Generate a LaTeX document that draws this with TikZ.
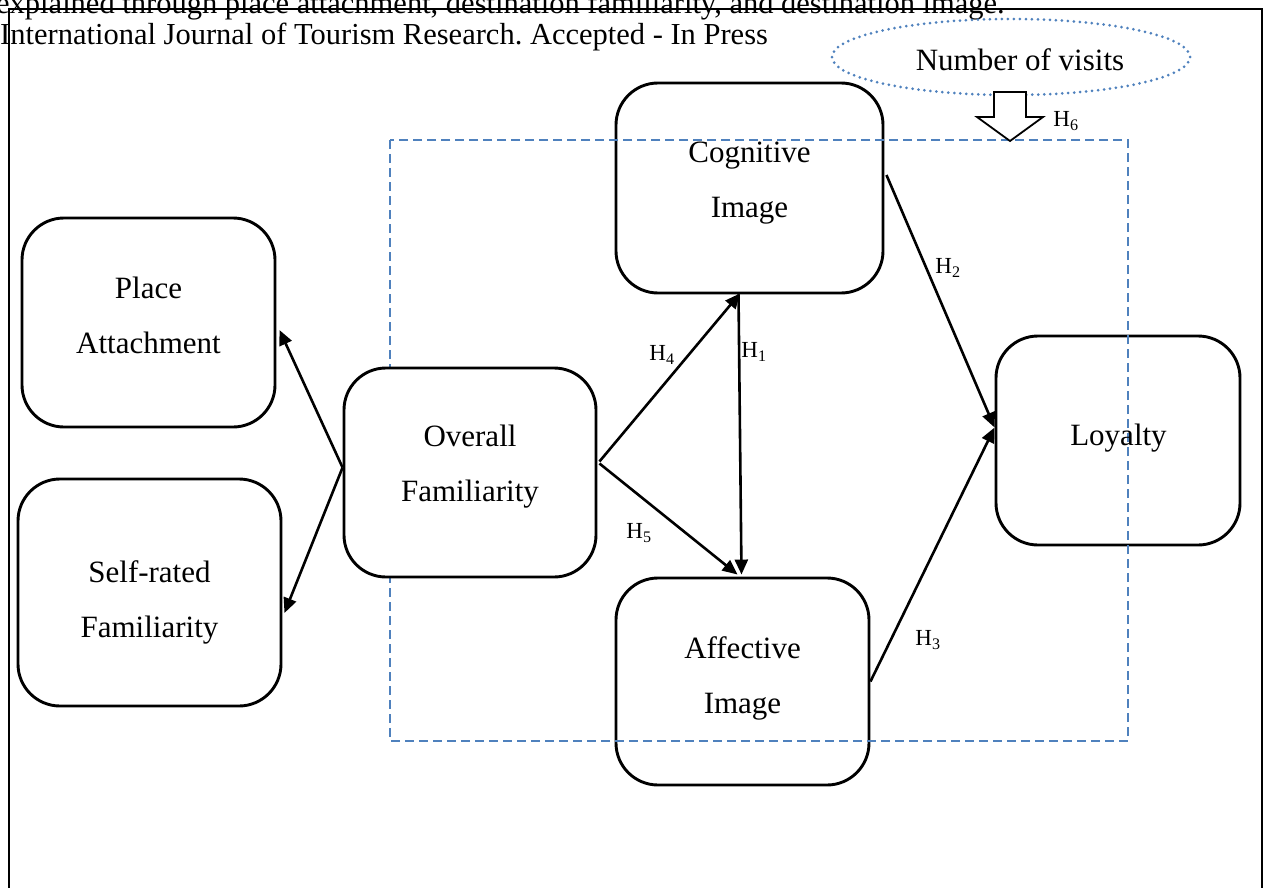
\documentclass[tikz,border=0pt]{standalone}
\usepackage{fontspec}
\setmainfont{Liberation Serif}
\usetikzlibrary{arrows.meta,calc,shapes.geometric}
\definecolor{wblue}{RGB}{79,129,189}
\frenchspacing
\begin{document}
\begin{tikzpicture}[x=1pt,y=-1pt,
  box/.style={draw, line width=2.9pt, rounded corners=42pt, fill=white, inner sep=0pt},
  lbl/.style={font=\fontsize{31}{55}\selectfont, align=center, inner sep=0pt},
  hyp/.style={font=\fontsize{23}{26}\selectfont, inner sep=0pt},
  arr/.style={line width=2.6pt, -{Triangle[length=15pt,width=13pt]}},
  hdr/.style={font=\fontsize{30.5}{32}\selectfont, anchor=base west, inner sep=0pt},
  frameline/.style={line width=2.4pt},
  grp/.style={draw=wblue, line width=2pt, dash pattern=on 9pt off 5pt},
  visits/.style={draw=wblue, ellipse, line width=3pt, dash pattern=on 0pt off 6pt, line cap=round, inner sep=0pt},
]
\useasboundingbox (0,0) rectangle (1269,888);
% header text
\node[hdr] (hdrA) at (-4,14) {explained through place attachment, destination familiarity, and destination image.};
\node[hdr] (hdrB) at (0,45) {International Journal of Tourism Research. Accepted - In Press};
\draw[frameline] (9,888) -- (9,9) -- (1262,9) -- (1262,888);

% boxes that the dashed frame runs over
\node[box, minimum width=267pt, minimum height=210pt] (CI) at (749.5,188) {};
\node[box, minimum width=253pt, minimum height=207pt] (AI) at (742.5,681.5) {};
\node[box, minimum width=244pt, minimum height=209pt] (LY) at (1118,440.5) {};

% dashed group frame
\draw[grp] (390,140) rectangle (1128,741);

% boxes drawn over the dashed frame
\node[box, minimum width=253pt, minimum height=209pt] (PA) at (148.5,322.5) {};
\node[box, minimum width=263pt, minimum height=227pt] (SF) at (149.5,592.5) {};
\node[box, minimum width=252pt, minimum height=209pt] (OF) at (470,472.5) {};

% box texts
\node[lbl] (PAt) at (148.5,315) {Place\\Attachment};
\node[lbl] (SFt) at (149.5,602.5) {Self-rated\\Familiarity};
\node[lbl] (OFt) at (470,466.5) {Overall\\Familiarity};
\node[lbl] (CIt) at (749.5,183.5) {Cognitive\\Image};
\node[lbl] (AIt) at (742.5,678) {Affective\\Image};
\node[lbl] (LYt) at (1118.5,438) {Loyalty};

% connectors
\draw[arr] ($(OF.west)+(0,-5)$) -- ($(PA.east)+(3,7.5)$);
\draw[arr] ($(OF.west)+(0,-5)$) -- ($(SF.east)+(2,20.5)$);
\draw[arr] ($(OF.east)+(2,-11)$) -- ($(CI.south)+(-9.5,-1)$);
\draw[arr] ($(OF.east)+(2,-9)$) -- ($(AI.north)+(-5,-2)$);
\draw[arr] ($(CI.south)+(-11,0)$) -- ($(AI.north)+(-1,-2)$);
\draw[arr] ($(CI.east)+(2,-13)$) -- ($(LY.west)+(0,-13)$);
\draw[arr] (AI.east) -- ($(LY.west)+(0,-13)$);

% hypothesis labels
\node[hyp] (H4) at (662,355) {H\textsubscript{4}};
\node[hyp] (H1) at (754,352) {H\textsubscript{1}};
\node[hyp] (H5) at (639,533) {H\textsubscript{5}};
\node[hyp] (H2) at (948,268) {H\textsubscript{2}};
\node[hyp] (H3) at (928,640) {H\textsubscript{3}};
\node[hyp] (H6) at (1066,121) {H\textsubscript{6}};

% number of visits
\node[visits, minimum width=358pt, minimum height=76pt] (NV) at (1011,57) {};
\node[lbl] (NVt) at (1020,60) {Number of visits};
\draw[line width=1.8pt, fill=white] (994,92) -- (1026,92) -- (1026,117) -- (1043,117)
  -- (1010,141) -- (977,117) -- (994,117) -- cycle;
\end{tikzpicture}
\end{document}
